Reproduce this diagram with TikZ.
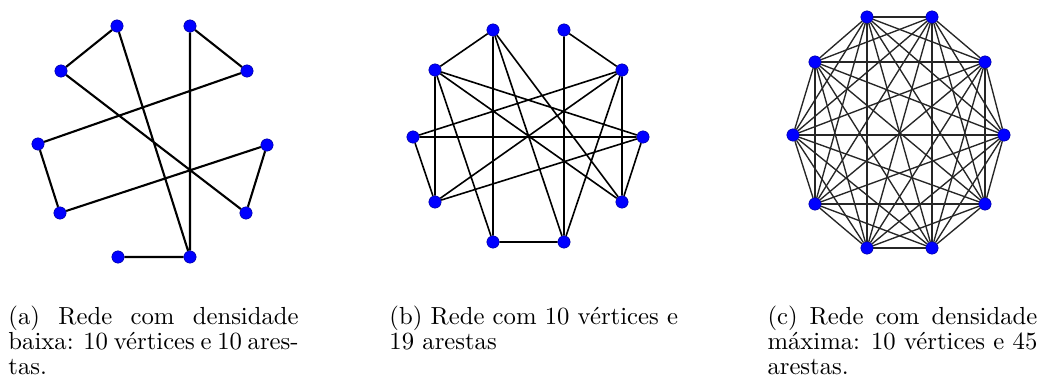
\documentclass[tikz,border=0pt]{standalone}
\usepackage{amsmath}
\usepackage{xcolor}
\usepackage{tikz}
\usetikzlibrary{backgrounds}

\begin{document}
\begin{tikzpicture}[
  x=0.405pt, y=-0.405pt,
  vtx/.style={circle, fill=blue, draw=blue!60!black, line width=0.2pt,
    inner sep=0pt, minimum size=5pt},
  aedge/.style={black, line width=0.85pt},
  bedge/.style={black, line width=0.65pt},
  cedge/.style={black!85, line width=0.55pt},
  capt/.style={anchor=base west, inner sep=0pt, align=justify,
    font=\fontsize{10}{10.2}\selectfont}
]
\useasboundingbox (0,0) rectangle (1044,379);

\foreach \n/\px/\py in {1/117/26, 2/190/26, 3/61/71, 4/247/71, 5/38/144,
    6/267/145, 7/60/213, 8/246/213, 9/118/257, 10/190/257}
  \node[vtx] (a\n) at (\px,\py) {};
\foreach \n/\px/\py in {1/493/30, 2/564/30, 3/435/70, 4/622/70, 5/413/137,
    6/643/137, 7/435/202, 8/622/202, 9/493/242, 10/564/242}
  \node[vtx] (b\n) at (\px,\py) {};
\foreach \n/\px/\py in {1/867/17, 2/932/17, 3/815/62, 4/985/62, 5/793/135,
    6/1004/135, 7/815/204, 8/985/204, 9/867/248, 10/932/248}
  \node[vtx] (c\n) at (\px,\py) {};

\begin{scope}[on background layer]
\draw[aedge] (a1) -- (a3) (a2) -- (a4) (a1) -- (a10) (a2) -- (a10)
  (a3) -- (a8) (a4) -- (a5) (a5) -- (a7) (a7) -- (a6) (a6) -- (a8)
  (a9) -- (a10);
\draw[bedge] (b1) -- (b3) (b1) -- (b9) (b1) -- (b10) (b1) -- (b8)
  (b2) -- (b4) (b2) -- (b10) (b3) -- (b7) (b3) -- (b9) (b3) -- (b6)
  (b3) -- (b8) (b4) -- (b5) (b4) -- (b7) (b4) -- (b8) (b4) -- (b10)
  (b5) -- (b6) (b5) -- (b7) (b6) -- (b7) (b6) -- (b8) (b9) -- (b10);
\foreach \i in {1,...,9} {
  \pgfmathtruncatemacro\j{\i+1}
  \foreach \k in {\j,...,10}
    \draw[cedge] (c\i) -- (c\k);
}
\end{scope}

\node[capt, text width=117.5pt] (capa) at (8,324)
  {(a) Rede com densidade\linebreak baixa: 10 vértices e 10 ares-\linebreak tas.};
\node[capt, text width=122pt] (capb) at (389,324)
  {(b) Rede com 10 vértices e\\ 19 arestas};
\node[capt, text width=109.3pt] (capc) at (767,324)
  {(c) Rede com densidade\linebreak máxima: 10 vértices e 45\linebreak arestas.};
\end{tikzpicture}
\end{document}
